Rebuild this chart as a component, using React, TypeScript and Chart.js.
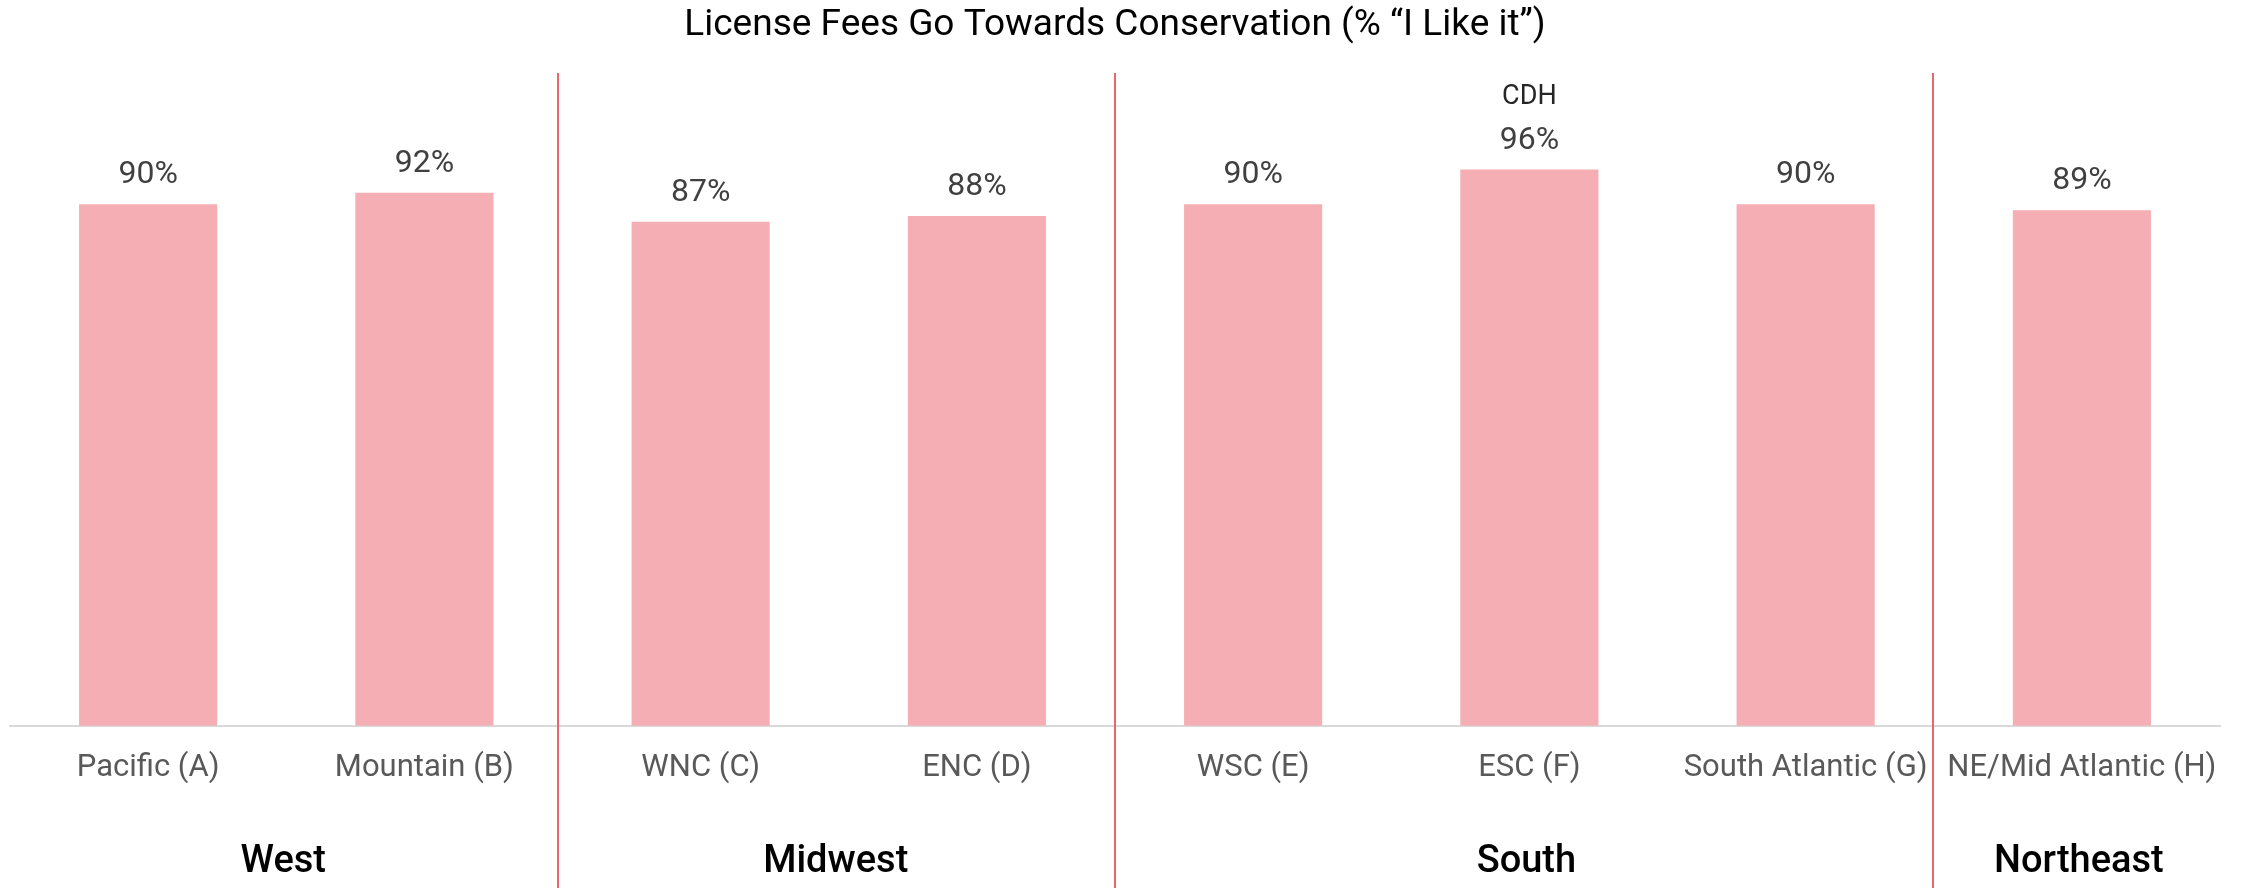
import React, { useEffect, useRef } from "react";
import { Chart, registerables } from "chart.js";

Chart.register(...registerables);

const categories = [
  "Pacific (A)",
  "Mountain (B)",
  "WNC (C)",
  "ENC (D)",
  "WSC (E)",
  "ESC (F)",
  "South Atlantic (G)",
  "NE/Mid Atlantic (H)",
];
const values = [90, 92, 87, 88, 90, 96, 90, 89];
const notes = ["", "", "", "", "", "CDH", "", ""];
const regions = [
  { name: "West", from: 0, to: 1 },
  { name: "Midwest", from: 2, to: 3 },
  { name: "South", from: 4, to: 6 },
  { name: "Northeast", from: 7, to: 7 },
];
const separators = [1.485, 3.5, 6.46];
const titleText = "License Fees Go Towards Conservation (% \u201CI Like it\u201D)";

const FONT = "Roboto, 'Noto Sans', sans-serif";

const overlayPlugin = {
  id: "overlay",
  afterDatasetsDraw(chart: any) {
    const { ctx, scales } = chart;
    const x = scales.x;
    const meta = chart.getDatasetMeta(0);
    ctx.save();
    // separators
    ctx.strokeStyle = "#e8676f";
    ctx.lineWidth = 2;
    separators.forEach((v) => {
      const px = Math.round(x.getPixelForValue(v));
      ctx.beginPath();
      ctx.moveTo(px, 73);
      ctx.lineTo(px, chart.height);
      ctx.stroke();
    });
    // data labels
    ctx.textAlign = "center";
    ctx.textBaseline = "middle";
    meta.data.forEach((bar: any, i: number) => {
      ctx.fillStyle = "#404040";
      ctx.font = `32px ${FONT}`;
      ctx.fillText(values[i] + "%", bar.x, bar.y - 29);
      if (notes[i]) {
        ctx.fillStyle = "#262626";
        ctx.font = `27px ${FONT}`;
        ctx.fillText(notes[i], bar.x, bar.y - 72);
      }
    });
    // region labels
    ctx.fillStyle = "#000000";
    ctx.font = `500 38px ${FONT}`;
    regions.forEach((r) => {
      const cx = (x.getPixelForValue(r.from) + x.getPixelForValue(r.to)) / 2 - 3;
      ctx.fillText(r.name, cx, 862);
    });
    ctx.restore();
  },
};

export default function App() {
  const ref = useRef<HTMLCanvasElement>(null);
  useEffect(() => {
    document.body.style.margin = "0";
    const chart = new Chart(ref.current!, {
      type: "bar",
      data: {
        labels: categories,
        datasets: [
          {
            data: values,
            backgroundColor: "#f5aeb3",
            barPercentage: 0.5,
            categoryPercentage: 1,
          },
        ],
      },
      options: {
        responsive: false,
        animation: false,
        layout: { padding: { left: 10, right: 26, top: 0, bottom: 77 } },
        plugins: {
          legend: { display: false },
          tooltip: { enabled: false },
          title: {
            display: true,
            text: titleText,
            color: "#000000",
            font: { family: FONT, size: 37, weight: "normal" as any },
            padding: { top: 4, bottom: 98 },
          },
        },
        scales: {
          x: {
            grid: { display: false, drawTicks: false },
            border: { display: true, color: "#d9d9d9", width: 2 },
            ticks: {
              color: "#595959",
              font: { family: FONT, size: 31 },
              padding: 24,
              autoSkip: false,
              maxRotation: 0,
            },
          },
          y: { display: false, min: 0, max: 100 },
        },
      },
      plugins: [overlayPlugin],
    });
    return () => chart.destroy();
  }, []);
  return <canvas ref={ref} width={2246} height={888} style={{ display: "block" }} />;
}
